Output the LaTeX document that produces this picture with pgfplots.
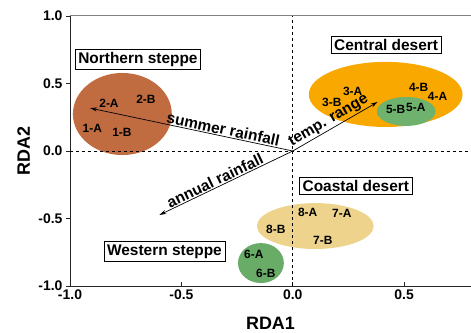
\documentclass[border=0pt]{standalone}
\usepackage{pgfplots}
\pgfplotsset{compat=1.18}
\usepackage{pgfplotstable}
\usepackage{fontspec}
\setmainfont{Liberation Sans}
\usetikzlibrary{arrows.meta}
\definecolor{cbrown}{RGB}{192,108,64}
\definecolor{corange}{RGB}{249,168,0}
\definecolor{cgreen}{RGB}{110,178,110}
\definecolor{cyellow}{RGB}{238,211,140}
\definecolor{cgreenb}{RGB}{104,172,104}
\pgfplotstableread{
x y label
-0.90 0.17 1-A
-0.767 0.14 1-B
-0.825 0.356 2-A
-0.659 0.385 2-B
0.269 0.444 3-A
0.175 0.363 3-B
0.65 0.407 4-A
0.565 0.474 4-B
0.552 0.326 5-A
0.462 0.311 5-B
-0.175 -0.763 6-A
-0.121 -0.904 6-B
0.220 -0.459 7-A
0.135 -0.659 7-B
0.067 -0.452 8-A
-0.076 -0.578 8-B
}\sites
\begin{document}
\begin{tikzpicture}
\path[use as bounding box] (-70bp,-47bp) rectangle (401bp,286bp);
\begin{axis}[
  at={(0,0)}, anchor=south west,
  scale only axis, width=401bp, height=270bp,
  xmin=-1, xmax=0.8, ymin=-1, ymax=1,
  axis lines*=left,
  axis line style={line width=1pt, black!85},
  xtick={-1,-0.5,0,0.5}, ytick={-1,-0.5,0,0.5,1},
  xtick align=inside, ytick align=outside,
  major tick length=4bp,
  tick style={line width=0.8pt, black!85},
  /pgf/number format/.cd, fixed, fixed zerofill, precision=1, assume math mode=true,
  /pgfplots/.cd,
  tick label style={font=\fontsize{14}{16}\selectfont\bfseries},
  xlabel={RDA1}, ylabel={RDA2},
  label style={font=\fontsize{18}{20}\selectfont\bfseries},
  xlabel style={at={(axis description cs:0.5,-0.1612)}, anchor=base},
  ylabel style={at={(axis description cs:-0.0998,0.5)}, anchor=base},
  clip=false,
]
% group ellipses
\fill[cbrown] (axis cs:-0.765,0.274) ellipse [x radius=0.222, y radius=0.304];
\fill[corange] (axis cs:0.417,0.419) ellipse [x radius=0.345, y radius=0.241];
\fill[cgreen] (axis cs:0.509,0.293) ellipse [x radius=0.132, y radius=0.107];
\fill[cyellow] (axis cs:0.101,-0.556) ellipse [x radius=0.262, y radius=0.170];
\fill[cgreenb] (axis cs:-0.143,-0.830) ellipse [x radius=0.103, y radius=0.148];
% reference lines
\addplot[black, dashed, line width=0.6pt] coordinates {(0,-1) (0,1)};
\addplot[black, dashed, line width=0.6pt] coordinates {(-1,0) (0.8,0)};
% top frame line
\draw[gray, line width=1pt] (rel axis cs:0,1) -- (rel axis cs:1,1);
% environmental arrows
\addplot[black, line width=0.7pt, -{Stealth[length=7bp,width=4bp]}] coordinates {(0,0) (-0.91,0.318)}
  node[pos=0.35, sloped, above, inner sep=1bp, font=\fontsize{15.5}{17}\selectfont\bfseries] {summer rainfall};
\addplot[black, line width=0.7pt, -{Stealth[length=7bp,width=4bp]}] coordinates {(0,0) (-0.599,-0.474)}
  node[pos=0.56, sloped, above, inner sep=1bp, font=\fontsize{15.5}{17}\selectfont\bfseries] {annual rainfall};
\addplot[black, line width=0.7pt, -{Stealth[length=7bp,width=4bp]}] coordinates {(0,0) (0.381,0.363)}
  node[pos=0.47, sloped, above, inner sep=1bp, font=\fontsize{15.5}{17}\selectfont\bfseries] {temp. range};
% site labels
\addplot[draw=none, mark=none, nodes near coords, point meta=explicit symbolic,
  every node near coord/.style={anchor=center, font=\fontsize{12}{14}\selectfont\bfseries, text=black}]
  table[x=x, y=y, meta=label] {\sites};
% group name boxes
\node[draw, fill=white, line width=0.6pt, inner sep=3bp, font=\fontsize{15.5}{17}\selectfont\bfseries] at (axis cs:-0.695,0.678) {Northern steppe};
\node[draw, fill=white, line width=0.6pt, inner sep=3bp, font=\fontsize{15.5}{17}\selectfont\bfseries] at (axis cs:0.419,0.785) {Central desert};
\node[draw, fill=white, line width=0.6pt, inner sep=3bp, font=\fontsize{15.5}{17}\selectfont\bfseries] at (axis cs:-0.576,-0.744) {Western steppe};
\node[draw, fill=white, line width=0.6pt, inner sep=3bp, font=\fontsize{15.5}{17}\selectfont\bfseries] at (axis cs:0.283,-0.259) {Coastal desert};
\end{axis}
\end{tikzpicture}
\end{document}
